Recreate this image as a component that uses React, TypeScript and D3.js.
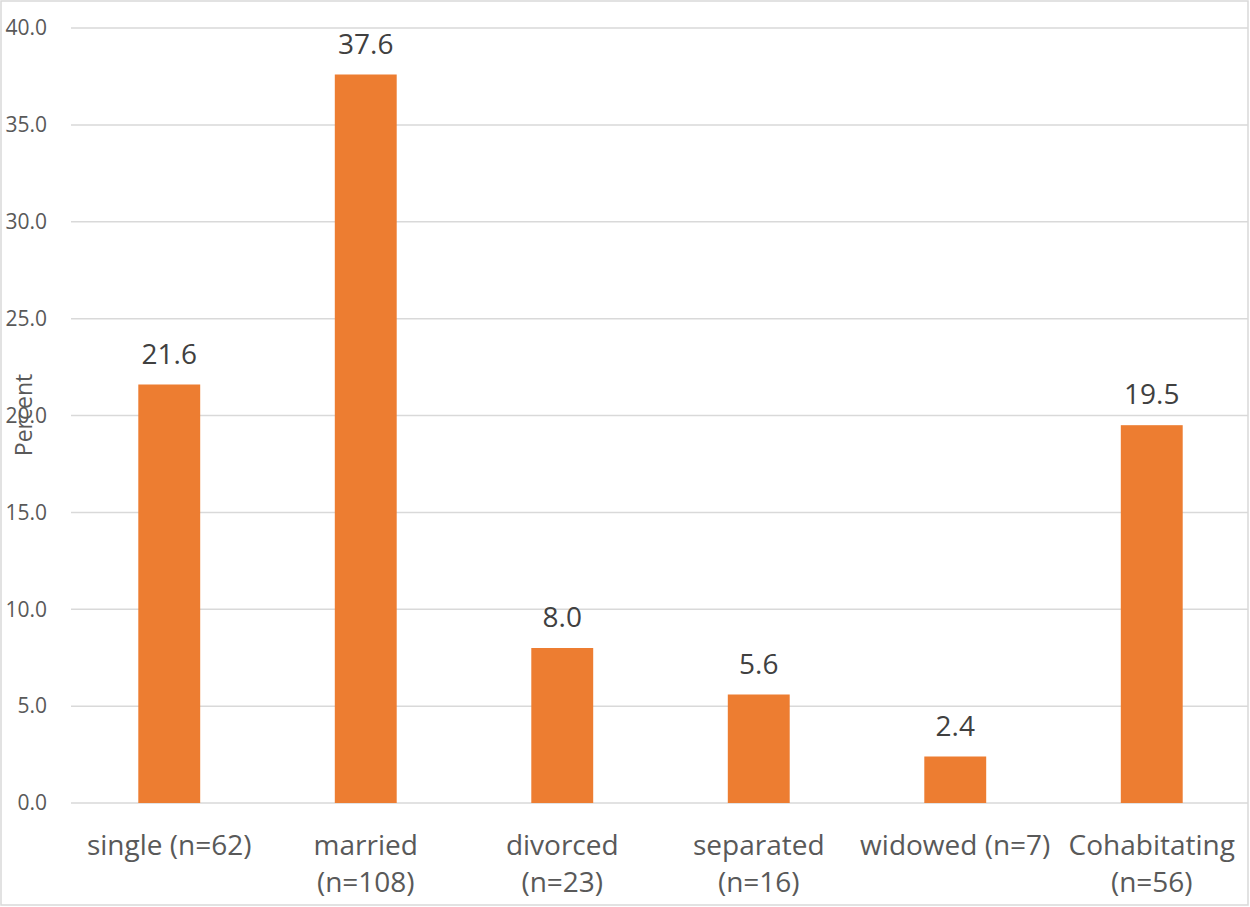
import * as d3 from "d3";

const categories = ["single (n=62)", "married (n=108)", "divorced (n=23)", "separated (n=16)", "widowed (n=7)", "Cohabitating (n=56)"];
const labelLines = [["single (n=62)"], ["married", "(n=108)"], ["divorced", "(n=23)"], ["separated", "(n=16)"], ["widowed (n=7)"], ["Cohabitating", "(n=56)"]];
const percents = [21.6, 37.6, 8.0, 5.6, 2.4, 19.5];
const yTicks = [0, 5, 10, 15, 20, 25, 30, 35, 40];

const W = 1250;
const H = 907;
const FONT = "'Open Sans', sans-serif";

export default function App() {
  const margin = { top: 28, right: 0, bottom: 104, left: 71 };
  const x = d3
    .scaleBand<string>()
    .domain(categories)
    .range([margin.left, W - margin.right])
    .paddingInner(0.685)
    .paddingOuter(0.3425);
  const y = d3.scaleLinear().domain([0, 40]).range([H - margin.bottom, margin.top]);

  return (
    <div style={{ position: "absolute", left: 0, top: 0 }}>
      <svg width={W} height={H} style={{ display: "block", background: "#fff", fontFamily: FONT }}>
        <rect x={1} y={1} width={W - 3} height={H - 3} fill="#fff" stroke="#d9d9d9" strokeWidth={1.5} />

        {/* grid + y tick labels */}
        {yTicks.map((t) => (
          <g key={t}>
            <line x1={margin.left} x2={W - 2} y1={y(t)} y2={y(t)} stroke="#d9d9d9" strokeWidth={1.5} />
            <text x={47} y={y(t)} dy="0.35em" textAnchor="end" fontSize={21} fill="#595959">
              {d3.format(".1f")(t)}
            </text>
          </g>
        ))}

        {/* bars */}
        {categories.map((c, i) => (
          <rect key={c} x={x(c)} y={y(percents[i])} width={x.bandwidth()} height={y(0) - y(percents[i])} fill="#ed7d31" />
        ))}

        {/* data labels */}
        {categories.map((c, i) => (
          <text
            key={c}
            x={(x(c) ?? 0) + x.bandwidth() / 2}
            y={y(percents[i]) - 21}
            textAnchor="middle"
            fontSize={28}
            fill="#404040"
          >
            {percents[i].toFixed(1)}
          </text>
        ))}

        {/* category labels */}
        {categories.map((c, i) => (
          <text key={c} x={(x(c) ?? 0) + x.bandwidth() / 2} y={855} textAnchor="middle" fontSize={28} fill="#595959">
            {labelLines[i].map((l, j) => (
              <tspan key={j} x={(x(c) ?? 0) + x.bandwidth() / 2} dy={j === 0 ? 0 : 37}>
                {l}
              </tspan>
            ))}
          </text>
        ))}

        {/* y axis title */}
        <text transform="translate(32,415) rotate(-90)" textAnchor="middle" fontSize={23} fill="#595959">
          Percent
        </text>
      </svg>
    </div>
  );
}
